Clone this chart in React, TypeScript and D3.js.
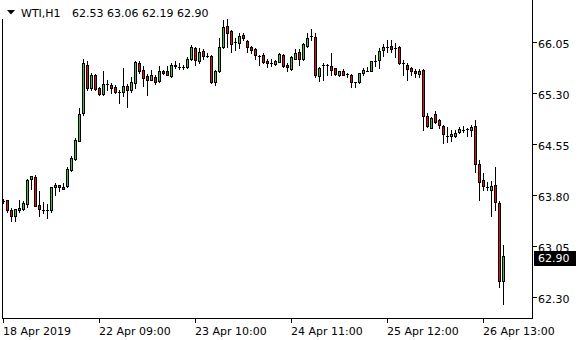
import React from 'react';
import * as d3 from 'd3';

const symbol = 'WTI,H1';

const opens = [
  63.71, 63.72, 63.57, 63.49, 63.57, 63.59, 63.67, 64.03, 64.06, 63.65,
  63.58, 63.58, 63.58, 63.91, 63.94, 63.91, 63.93, 64.17, 64.33, 64.60,
  65.00, 65.72, 65.37, 65.57, 65.37, 65.28, 65.44, 65.42, 65.39, 65.32,
  65.31, 65.41, 65.34, 65.45, 65.75, 65.64, 65.55, 65.50, 65.54, 65.48,
  65.63, 65.63, 65.55, 65.71, 65.69, 65.68, 65.68, 65.80, 65.96, 65.78,
  65.92, 65.85, 65.85, 65.47, 65.62, 65.98, 66.29, 66.21, 66.06, 66.04,
  66.16, 66.07, 65.98, 65.95, 65.85, 65.86, 65.78, 65.75, 65.73, 65.76,
  65.86, 65.71, 65.65, 65.81, 65.90, 65.80, 66.00, 66.14, 66.13, 65.55,
  65.71, 65.71, 65.70, 65.67, 65.57, 65.63, 65.58, 65.57, 65.46, 65.46,
  65.59, 65.63, 65.63, 65.77, 65.79, 65.93, 65.98, 66.00, 65.97, 65.98,
  65.74, 65.72, 65.67, 65.63, 65.58, 65.64, 64.96, 64.79, 64.99, 64.90,
  64.81, 64.67, 64.66, 64.67, 64.72, 64.76, 64.77, 64.76, 64.81, 64.26,
  64.02, 63.92, 63.87, 63.94, 63.68, 62.53,
];

const highs = [
  63.74, 63.73, 63.61, 63.59, 63.72, 63.71, 64.03, 64.08, 64.09, 63.86,
  63.69, 63.66, 63.91, 63.98, 63.95, 63.98, 64.21, 64.37, 64.64, 65.08,
  65.80, 65.77, 65.60, 65.58, 65.39, 65.63, 65.49, 65.45, 65.42, 65.35,
  65.67, 65.44, 65.54, 65.77, 65.77, 65.70, 65.58, 65.64, 65.57, 65.70,
  65.64, 65.70, 65.75, 65.77, 65.74, 65.71, 65.83, 66.01, 65.98, 65.96,
  65.95, 65.89, 65.86, 65.64, 66.11, 66.38, 66.40, 66.23, 66.11, 66.18,
  66.18, 66.08, 66.00, 65.97, 65.86, 65.89, 65.80, 65.80, 65.79, 65.89,
  65.87, 65.75, 65.84, 65.95, 65.95, 66.04, 66.19, 66.24, 66.19, 65.69,
  65.74, 65.73, 65.89, 65.67, 65.63, 65.65, 65.60, 65.58, 65.46, 65.60,
  65.67, 65.69, 65.78, 65.86, 65.96, 66.02, 66.08, 66.08, 66.04, 65.99,
  65.79, 65.75, 65.69, 65.65, 65.65, 65.65, 65.00, 64.95, 65.03, 64.92,
  64.83, 64.80, 64.76, 64.76, 64.80, 64.81, 64.78, 64.83, 64.91, 64.32,
  64.12, 63.99, 64.01, 64.21, 63.71, 63.06,
];

const lows = [
  63.68, 63.55, 63.41, 63.41, 63.54, 63.58, 63.62, 63.88, 63.63, 63.49,
  63.53, 63.46, 63.55, 63.79, 63.85, 63.88, 63.91, 64.15, 64.31, 64.59,
  64.97, 65.35, 65.35, 65.34, 65.27, 65.27, 65.35, 65.30, 65.30, 65.15,
  65.25, 65.10, 65.32, 65.38, 65.59, 65.41, 65.27, 65.49, 65.43, 65.47,
  65.58, 65.56, 65.54, 65.67, 65.66, 65.65, 65.67, 65.79, 65.71, 65.74,
  65.80, 65.83, 65.45, 65.42, 65.61, 65.97, 65.98, 65.91, 65.94, 65.96,
  66.08, 65.91, 65.89, 65.80, 65.71, 65.74, 65.69, 65.70, 65.71, 65.76,
  65.69, 65.62, 65.64, 65.80, 65.72, 65.79, 65.98, 66.08, 65.54, 65.48,
  65.50, 65.57, 65.57, 65.57, 65.55, 65.56, 65.54, 65.39, 65.39, 65.45,
  65.57, 65.62, 65.62, 65.70, 65.67, 65.84, 65.90, 65.90, 65.83, 65.73,
  65.57, 65.50, 65.57, 65.54, 65.54, 64.76, 64.80, 64.78, 64.86, 64.78,
  64.57, 64.58, 64.60, 64.65, 64.71, 64.73, 64.66, 64.67, 64.14, 63.72,
  63.87, 63.87, 63.49, 63.58, 62.44, 62.19,
];

const closes = [
  63.71, 63.57, 63.48, 63.59, 63.60, 63.68, 64.02, 64.07, 63.64, 63.59,
  63.58, 63.58, 63.91, 63.95, 63.91, 63.89, 64.18, 64.35, 64.61, 64.99,
  65.74, 65.37, 65.57, 65.36, 65.28, 65.43, 65.44, 65.37, 65.31, 65.32,
  65.41, 65.34, 65.47, 65.76, 65.62, 65.53, 65.50, 65.57, 65.47, 65.63,
  65.59, 65.57, 65.71, 65.70, 65.68, 65.68, 65.81, 65.98, 65.79, 65.90,
  65.85, 65.85, 65.47, 65.63, 65.98, 66.27, 66.19, 66.02, 66.06, 66.14,
  66.11, 65.98, 65.93, 65.86, 65.85, 65.76, 65.74, 65.75, 65.77, 65.87,
  65.70, 65.68, 65.83, 65.89, 65.80, 66.02, 66.11, 66.14, 65.57, 65.67,
  65.71, 65.71, 65.64, 65.58, 65.62, 65.57, 65.58, 65.47, 65.46, 65.59,
  65.64, 65.63, 65.77, 65.77, 65.92, 65.98, 65.98, 65.95, 65.97, 65.74,
  65.74, 65.65, 65.62, 65.59, 65.63, 64.96, 64.81, 64.93, 64.88, 64.83,
  64.69, 64.67, 64.69, 64.71, 64.77, 64.76, 64.77, 64.80, 64.25, 63.99,
  63.93, 63.92, 63.93, 63.70, 62.53, 62.90,
];

const priceTicks = [62.3, 63.05, 63.8, 64.55, 65.3, 66.05];
const timeTickIndex = [0, 24, 48, 72, 96, 120];
const timeTickLabels = [
  '18 Apr 2019',
  '22 Apr 09:00',
  '23 Apr 10:00',
  '24 Apr 11:00',
  '25 Apr 12:00',
  '26 Apr 13:00',
];

const BULL = '#3fbf3f';
const BEAR = '#e01010';
const FONT = '"DejaVu Sans", Verdana, sans-serif';

export default function App() {
  const W = 580;
  const H = 340;
  const plotRight = 532;
  const plotBottom = 318;
  const n = closes.length;

  const x = d3.scaleLinear().domain([0, n - 1]).range([3.5, 3.5 + 4 * (n - 1)]);
  const y = d3.scaleLinear().domain([62.3, 66.05]).range([296.5, 42.25]);

  const fmt = d3.format('.2f');
  const last = n - 1;
  const lastClose = closes[last];

  const candles = closes.map((c, i) => {
    const cx = x(i);
    const o = opens[i];
    const yO = Math.round(y(o));
    const yC = Math.round(y(c));
    const yH = Math.round(y(highs[i]));
    const yL = Math.round(y(lows[i]));
    const top = Math.min(yO, yC);
    const bot = Math.max(yO, yC);
    const fill = c >= o ? BULL : BEAR;
    return (
      <g key={i}>
        <rect x={cx - 0.5} y={yH} width={1} height={yL - yH + 1} fill="#000" />
        {bot - top < 1 ? (
          <rect x={cx - 1.5} y={top} width={3} height={1} fill="#000" />
        ) : (
          <>
            <rect x={cx - 1.5} y={top} width={3} height={bot - top + 1} fill="#000" />
            {bot - top - 1 > 0 && (
              <rect x={cx - 0.5} y={top + 1} width={1} height={bot - top - 1} fill={fill} />
            )}
          </>
        )}
      </g>
    );
  });

  const yLast = y(lastClose);

  return (
    <svg
      width={W}
      height={H}
      viewBox={`0 0 ${W} ${H}`}
      style={{ position: 'absolute', left: 0, top: 0, background: '#fff' }}
      fontFamily={FONT}
      fontSize={11}
    >
      <rect x={0} y={0} width={W} height={H} fill="#fff" />
      <g shapeRendering="crispEdges">
        {candles}
        {/* frame */}
        <rect x={2} y={19} width={1} height={plotBottom - 19 + 1} fill="#000" />
        <rect x={2} y={plotBottom} width={plotRight - 2 + 1} height={1} fill="#000" />
        <rect x={plotRight} y={0} width={1} height={plotBottom + 1} fill="#000" />
        {priceTicks.map((t) => (
          <rect key={t} x={plotRight + 1} y={Math.round(y(t))} width={4} height={1} fill="#000" />
        ))}
        {timeTickIndex.map((idx) => (
          <rect key={idx} x={Math.round(x(idx) - 0.5)} y={plotBottom + 1} width={1} height={4} fill="#000" />
        ))}
      </g>

      {priceTicks.map((t) => (
        <text key={t} x={538} y={y(t) + 6} fill="#000">
          {fmt(t)}
        </text>
      ))}

      {timeTickIndex.map((idx, k) => (
        <text key={idx} x={x(idx) - 0.5} y={334.5} fill="#000">
          {timeTickLabels[k]}
        </text>
      ))}

      {/* current price tag */}
      <rect x={534} y={Math.round(yLast) - 5} width={42} height={15} fill="#000" />
      <text x={538} y={yLast + 6} fill="#fff">
        {fmt(lastClose)}
      </text>

      {/* title */}
      <polygon points="7,10 15,10 11,14.5" fill="#000" />
      <text x={21} y={16.7} fill="#000">
        {symbol}
      </text>
      <text x={72} y={16.7} fill="#000">
        {[opens[last], highs[last], lows[last], closes[last]].map(fmt).join(' ')}
      </text>
    </svg>
  );
}
